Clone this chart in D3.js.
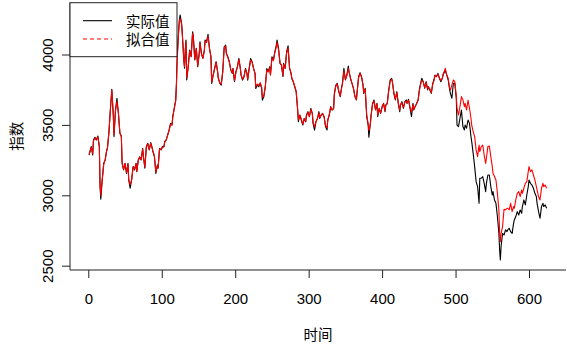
<!DOCTYPE html>
<html>
<head>
<meta charset="utf-8">
<script src="https://cdn.jsdelivr.net/npm/d3@7"></script>
<style>
  body { margin: 0; background: #fff; }
  svg { display: block; }
</style>
</head>
<body>
<svg id="chart" width="567" height="344"></svg>
<script>
var timeIdx = [
  1,4,6,7,9,11,13,15,16,17, 19,21,23,25,26,28,30,32,34,35,
  37,39,41,43,45,46,48,50,52,54, 55,57,59,61,63,65,66,68,70,72,
  74,75,77,79,81,83,85,86,88,90, 92,94,95,97,99,101,103,104,106,108,
  110,112,114,115,117,119,120,121,123,124, 125,127,128,130,131,132,133,134,136,138,
  140,142,143,145,147,149,151,152,154,156, 158,
  159,161,163,165,167,168,170,172,174,176, 177,179,181,183,185,187,188,190,192,194,
  196,197,199,201,203,205,207,208,210,212, 214,216,217,219,221,223,225,227,228,230,
  232,234,236,237,239,241,243,245,247,248, 250,252,254,256,257,259,261,263,265,266,
  268,270,272,274,276,277,279,281,283,285, 286,288,290,292,294,296,297,299,301,303,
  305,306,308,310,312,314,315,317,319,321,
  323,325,326,328,330,332,334,335,337,339, 341,343,345,346,348,350,352,354,355,357,
  359,361,363,365,366,368,370,372,374,375, 377,379,381,382,384,385,387,389,391,393,
  394,396,398,400,402,404,405,407,409,411, 413,414,416,418,420,422,424,425,427,429,
  431,433,434,436,438,440,442,443,445,447, 449,451,453,454,456,458,460,462,463,465,
  467,469,471,472,474,476,478,480,482,483, 485,
  486,488,490,492,493,495,497,499,501,502, 504,506,508,510,512,513,515,517,519,521,
  522,524,526,528,530,532,533,535,537,539, 541,542,544,546,548,550,551,553,555,557,
  559,560,561,562,564,566,568,570,571,573, 575,577,579,580,582,584,586,588,590,591,
  593,595,597,599,600,602,604,606,608,610, 611,613,615,617,619,620,622,624
];

var actual = [
  3286,3346,3286,3393,3412,3393,3421,3346,3061,2972, 3109,3227,3251,3322,3334,3440,3606,3753,3570,3417,
  3606,3689,3582,3440,3417,3227,3180,3227,3156,3227, 3109,3050,3109,3204,3180,3227,3168,3251,3274,3251,
  3334,3274,3192,3346,3369,3322,3374,3357,3310,3274, 3156,3215,3192,3334,3322,3346,3346,3381,3393,3428,
  3464,3511,3499,3559,3618,3677,3795,3985,4174,4245, 4281,4221,4150,3961,3902,4032,4103,3819,3914,4032,
  3985,4162,4127,3961,4044,3914,4008,4091,4008,3973, 4032,
  4103,4091,4143,4043,3984,3795,3854,3901,3949,3878, 3830,3795,3783,3878,4055,4067,4008,3984,3949,3889,
  3866,3901,3807,3878,3913,3972,3901,3854,3818,3842, 3901,3866,3818,3901,3972,3949,3901,3866,3759,3783,
  3771,3795,3759,3676,3700,3771,3901,3878,3913,3854, 3984,3960,4020,4067,4103,4043,3937,3925,3842,3937,
  3901,4020,4062,3901,3866,3830,3807,3771,3736,3605, 3523,3570,3534,3499,3546,3523,3570,3594,3558,3617,
  3582,3511,3463,3523,3546,3594,3546,3570,3582,3558,
  3488,3464,3535,3570,3630,3606,3618,3724,3783,3795, 3736,3701,3772,3795,3902,3819,3854,3918,3878,3831,
  3795,3760,3701,3677,3736,3843,3871,3843,3783,3724, 3760,3559,3499,3412,3511,3570,3653,3677,3606,3653,
  3559,3618,3582,3630,3653,3594,3641,3653,3748,3819, 3831,3807,3724,3677,3736,3653,3594,3641,3665,3618,
  3665,3677,3653,3682,3618,3559,3653,3606,3630,3653, 3677,3760,3807,3831,3807,3760,3807,3748,3772,3748,
  3724,3795,3831,3854,3843,3866,3831,3807,3831,3854, 3878,
  3890,3854,3819,3748,3724,3689,3795,3795,3689,3499, 3488,3547,3606,3488,3464,3499,3476,3535,3511,3417,
  3381,3298,3204,3097,3062,2943,3121,3121,3133,3085, 3026,3085,3144,3144,3062,3002,3026,2967,2943,2849,
  2730,2612,2541,2636,2730,2718,2754,2742,2754,2766, 2742,2730,2801,2825,2849,2884,2860,2896,2872,2920,
  2967,2932,3002,3062,3109,3085,3073,3050,3014,2991, 2943,2884,2837,2920,2943,2920,2932,2908
];

var fitted = [
  3290,3340,3295,3385,3405,3395,3415,3350,3075,3000, 3115,3220,3255,3315,3330,3445,3600,3745,3575,3430,
  3600,3665,3585,3445,3420,3235,3185,3225,3160,3220, 3115,3075,3110,3200,3185,3225,3170,3245,3270,3255,
  3330,3280,3200,3340,3365,3325,3370,3355,3315,3280, 3165,3210,3195,3330,3325,3340,3345,3378,3390,3425,
  3460,3505,3500,3555,3615,3670,3780,3965,4160,4235, 4255,4215,4140,3970,3915,4025,4090,3835,3910,4025,
  3985,4150,4120,3965,4040,3920,4005,4080,4005,3975, 4025,
  4095,4085,4130,4040,3985,3805,3855,3900,3945,3880, 3835,3800,3790,3875,4045,4060,4005,3980,3945,3890,
  3870,3900,3815,3875,3910,3965,3900,3855,3825,3845, 3895,3865,3825,3895,3960,3945,3900,3865,3770,3790,
  3780,3800,3770,3695,3710,3775,3890,3875,3905,3855, 3975,3955,4015,4055,4085,4035,3940,3925,3850,3930,
  3900,4010,4045,3905,3870,3835,3810,3775,3740,3615, 3535,3570,3540,3505,3545,3525,3565,3590,3560,3610,
  3580,3520,3485,3525,3545,3585,3550,3570,3580,3560,
  3495,3480,3530,3570,3625,3605,3615,3715,3775,3790, 3740,3705,3765,3790,3880,3825,3850,3900,3875,3830,
  3795,3760,3705,3680,3730,3835,3865,3840,3785,3730, 3755,3575,3510,3460,3505,3565,3645,3670,3610,3650,
  3570,3615,3585,3625,3650,3600,3640,3650,3740,3810, 3825,3805,3730,3685,3730,3660,3605,3640,3660,3625,
  3660,3670,3655,3675,3625,3590,3645,3610,3630,3650, 3675,3750,3800,3815,3805,3765,3800,3755,3770,3755,
  3730,3790,3820,3850,3845,3860,3835,3815,3830,3860, 3885,
  3902,3854,3831,3760,3748,3783,3819,3807,3701,3618, 3570,3630,3701,3677,3630,3653,3606,3677,3618,3547,
  3499,3452,3417,3322,3275,3357,3310,3346,3357,3286, 3227,3263,3346,3350,3275,3204,3156,3133,3109,3014,
  2896,2730,2671,2730,2777,2901,2896,2908,2908,2896, 2943,2884,2920,2908,2967,3014,3026,2991,3038,3014,
  3050,3085,3097,3168,3204,3168,3180,3144,3109,3062, 3038,2991,2967,3050,3085,3062,3073,3050
];

var xTicks = [0, 100, 200, 300, 400, 500, 600];
var yTicks = [2500, 3000, 3500, 4000];
var legendLabels = ["实际值", "拟合值"];
var xTitle = "时间";
var yTitle = "指数";

var svg = d3.select("#chart");
var numFont = "'Liberation Sans', Arial, Helvetica, sans-serif";
var cjkFont = "'Noto Sans CJK SC', 'Noto Sans', sans-serif";

// plot region (R style, bty = "l")
var plotLeft = 70, plotRight = 566, plotTop = 2.7, plotBottom = 270;

var x = d3.scaleLinear().domain([0, 600]).range([88.3, 529]);
var y = d3.scaleLinear().domain([2500, 4000]).range([265.7, 54.5]);

svg.append("rect").attr("width", 567).attr("height", 344).attr("fill", "#fff");

var rows = timeIdx.map(function(t, i) {
    return {t: t, a: actual[i], f: fitted[i]};
});

var lineA = d3.line().x(function(d) { return x(d.t); }).y(function(d) { return y(d.a); });
var lineF = d3.line().x(function(d) { return x(d.t); }).y(function(d) { return y(d.f); });

svg.append("path")
    .datum(rows)
    .attr("d", lineA)
    .attr("fill", "none")
    .attr("stroke", "#000")
    .attr("stroke-width", 1.1)
    .attr("stroke-linejoin", "round");

svg.append("path")
    .datum(rows)
    .attr("d", lineF)
    .attr("fill", "none")
    .attr("stroke", "#ff0000")
    .attr("stroke-width", 1.1)
    .attr("stroke-linejoin", "round");

// L-shaped box
svg.append("path")
    .attr("d", "M" + plotLeft + "," + plotTop + "V" + plotBottom + "H" + plotRight)
    .attr("fill", "none")
    .attr("stroke", "#222")
    .attr("stroke-width", 1);

// x axis
var gx = svg.append("g")
    .attr("transform", "translate(0," + plotBottom + ")")
    .call(d3.axisBottom(x).tickValues(xTicks).tickSize(8).tickFormat(d3.format("d")));
gx.select(".domain").remove();
gx.selectAll("line").attr("stroke", "#222");
gx.selectAll("text")
    .attr("y", 34).attr("dy", 0)
    .attr("fill", "#000")
    .style("font-family", numFont)
    .style("font-size", "15px");

// y axis, labels parallel to the axis
var gy = svg.append("g")
    .attr("transform", "translate(" + plotLeft + ",0)")
    .call(d3.axisLeft(y).tickValues(yTicks).tickSize(8).tickFormat(d3.format("d")));
gy.select(".domain").remove();
gy.selectAll("line").attr("stroke", "#222");
gy.selectAll("text")
    .attr("transform", "rotate(-90)")
    .attr("x", 0).attr("y", -17).attr("dy", 0)
    .attr("text-anchor", "middle")
    .attr("fill", "#000")
    .style("font-family", numFont)
    .style("font-size", "15px");

// axis titles
svg.append("text")
    .attr("x", (plotLeft + plotRight) / 2).attr("y", 340)
    .attr("text-anchor", "middle")
    .style("font-family", cjkFont).style("font-size", "14.5px")
    .text(xTitle);

svg.append("text")
    .attr("transform", "translate(21.5," + (plotTop + plotBottom) / 2 + ") rotate(-90)")
    .attr("text-anchor", "middle")
    .style("font-family", cjkFont).style("font-size", "14.5px")
    .text(yTitle);

// legend, top left of the plot region
var lg = svg.append("g");
lg.append("rect")
    .attr("x", plotLeft).attr("y", plotTop)
    .attr("width", 107).attr("height", 54)
    .attr("fill", "#fff")
    .attr("stroke", "#222")
    .attr("stroke-width", 1);

var legendRows = [
    {label: legendLabels[0], color: "#000", dash: null, yy: 20.7},
    {label: legendLabels[1], color: "#ff0000", dash: "4,3", yy: 39}
];
legendRows.forEach(function(r) {
    lg.append("line")
        .attr("x1", 83).attr("x2", 112)
        .attr("y1", r.yy).attr("y2", r.yy)
        .attr("stroke", r.color)
        .attr("stroke-width", 1.1)
        .attr("stroke-dasharray", r.dash);
    lg.append("text")
        .attr("x", 126).attr("y", r.yy + 6)
        .style("font-family", cjkFont).style("font-size", "14.5px")
        .text(r.label);
});
</script>
</body>
</html>
